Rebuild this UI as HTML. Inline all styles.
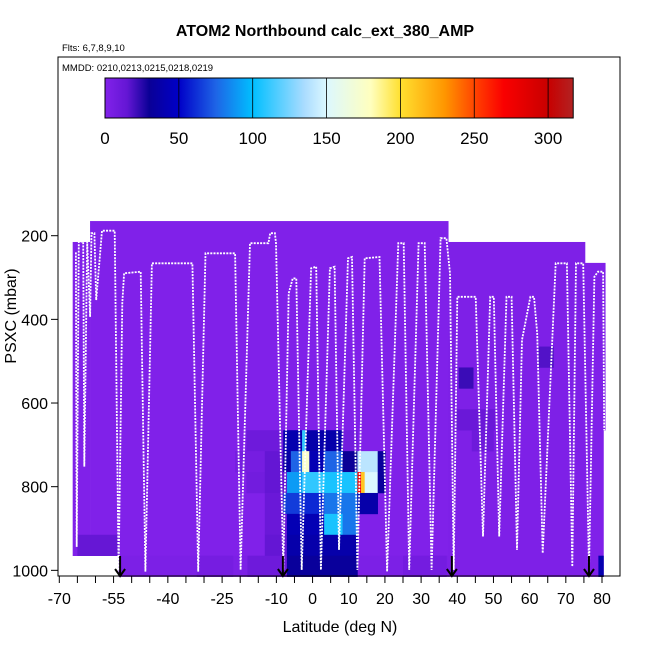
<!DOCTYPE html>
<html><head><meta charset="utf-8"><style>
html,body{margin:0;padding:0;background:#fff}
svg{display:block;font-family:"Liberation Sans",sans-serif}
</style></head><body>
<svg id="c" width="650" height="650" viewBox="0 0 650 650" xmlns="http://www.w3.org/2000/svg">
<text x="325" y="36" text-anchor="middle" font-size="16" font-weight="bold">ATOM2 Northbound calc_ext_380_AMP</text>
<text x="62" y="51" font-size="9.5">Flts: 6,7,8,9,10</text>
<text x="62" y="71" font-size="9.5">MMDD: 0210,0213,0215,0218,0219</text>
<text transform="translate(16,316) rotate(-90)" text-anchor="middle" font-size="16">PSXC (mbar)</text>
<text x="340" y="632" text-anchor="middle" font-size="16">Latitude (deg N)</text>
<g id="cells"></g>
<g id="track"></g>
<g id="arrows"></g>
<rect x="58" y="57" width="562" height="519" fill="none" stroke="#000" stroke-width="1"/>
<g id="axes"></g>
<g id="cbar"></g>
</svg>
<script>
// ---- data ----
const xTicks = [-70,-65,-60,-55,-50,-45,-40,-35,-30,-25,-20,-15,-10,-5,0,5,10,15,20,25,30,35,40,45,50,55,60,65,70,75,80];
const xLabels = [-70,-55,-40,-25,-10,0,10,20,30,40,50,60,70,80];
const yTicks = [200,400,600,800,1000];
const cbTicks = [0,50,100,150,200,250,300];
const arrowLats = [-53.2,-8.2,38.5,76.4];
// heatmap cells: lat0, lat1, p0, p1
const cellLat0 = [-61.5,-53.6,-66.3,37.5,75.3,75.3,
 -18.3,-8.1,-2.9,-1.9,8.3,
 -21.4,-13.2,-8.1,-6,-2.9,-0.9,3.2,8.3,12.4,18,
 -18.3,-13.2,-7.1,-2.9,2.7,12.4,13.4,14.4,18,
 -13.2,-8.1,-2.9,3.2,12.4,
 -13.2,-7.1,3.2,8.3,
 -13.2,-7.1,
 -18,-7.1,
 40.4,39.5,62.5,44,-65,79,-32,25];
const cellLat1 = [37.5,37.5,-61.5,75.3,80.9,80.4,
 -8.1,-2.9,-1.9,8.3,12.4,
 -13.2,-8.1,-6,-2.9,-0.9,3.2,8.3,12.4,18,20.1,
 -13.2,-7.1,-2.9,2.7,12.4,13.4,14.4,18,20.1,
 -8.1,-2.9,3.2,12.4,18,
 -7.1,3.2,8.3,12.4,
 -7.1,12.4,
 -7.1,12.4,
 44.4,50.3,66.6,50,-53.6,80.4,-22,37];
const cellP0 = [165,965,215,215,265,665,
 665,665,665,665,665,
 715,715,715,715,715,715,715,715,715,715,
 765,765,765,765,765,765,765,765,765,
 815,815,815,815,815,
 865,865,865,865,
 915,915,
 965,965,
 515,615,465,665,915,965,965,965];
const cellP1 = [965,1015,965,1015,665,1015,
 715,715,715,715,715,
 765,765,765,765,765,765,765,765,765,765,
 815,815,815,815,815,815,815,815,815,
 865,865,865,865,865,
 915,915,915,915,
 965,965,
 1015,1015,
 565,665,515,715,965,1015,1015,1015];
const cellVal = [1,3,1,2,1,1,
 10,40,110,38,8,
 6,15,36,75,175,42,75,30,140,32,
 8,15,90,110,105,275,210,150,32,
 12,65,60,80,38,
 12,42,105,80,
 15,38,
 10,32,
 22,12,18,10,14,40,6,7];
// flight track vertices
const trackLat = [-65.4,-65.2,-64.6,-63.4,-63.1,-62.3,-61.5,-61.1,-60.3,-59.8,-58.2,-54.7,-53.6,-52.6,-52.1,-47.5,-46.2,-44.4,-33.2,-31.6,-29.6,-21.4,-19.9,-17.3,-12.2,-11.7,-10.4,-10.1,-8.1,-6.6,-5.5,-4.5,-3,-0.4,1,2.3,4.8,6.1,7.3,9.8,10.9,12.4,14.4,18.5,20.6,23.7,25.2,26.7,29.3,31,32.9,35.4,37,38,39,40,45.1,47.1,49.1,50.1,51.6,53.6,55,56.5,57.9,60.2,61.2,62.1,63.6,67.2,70.3,71.8,72.8,74.8,76.4,77.9,78.9,80.3,80.6];
const trackP = [240,944,214,214,752,214,394,194,194,354,188,188,1000,361,290,286,1003,266,266,1003,242,242,999,218,218,194,194,218,999,338,302,302,999,278,274,999,278,274,951,254,251,999,254,251,1003,218,218,999,218,218,999,206,206,290,999,346,346,919,346,346,919,346,346,951,449,346,346,433,959,266,266,991,266,266,999,298,286,286,665];

// ---- scales ----
const X = lat => 59.3 + (lat + 70) * 3.618;
const Y = p => 235.7 + (p - 200) * 0.4183;
const CB = v => 105 + v * 1.477;
const NS = 'http://www.w3.org/2000/svg';
const stops = [[0,[130,34,234]],[15,[100,22,212]],[30,[10,0,150]],[50,[0,0,200]],[75,[30,100,230]],[100,[0,191,255]],[135,[170,220,255]],[150,[220,248,255]],[180,[255,255,190]],[200,[255,224,48]],[230,[255,150,0]],[255,[255,50,0]],[270,[250,0,0]],[300,[200,0,0]],[317,[178,34,34]]];
function col(v){
  for(let i=1;i<stops.length;i++){
    if(v<=stops[i][0]){const a=stops[i-1],b=stops[i],t=(v-a[0])/(b[0]-a[0]);
      return 'rgb('+a[1].map((c,k)=>Math.round(c+(b[1][k]-c)*t)).join(',')+')';}
  }
  return 'rgb(178,34,34)';
}
function mk(tag,attrs,parent){const e=document.createElementNS(NS,tag);for(const k in attrs)e.setAttribute(k,attrs[k]);parent.appendChild(e);return e;}

// heatmap
const cells=document.getElementById('cells');
for(let i=0;i<cellVal.length;i++){
  const r=mk('rect',{x:X(cellLat0[i]),y:Y(cellP0[i]),width:X(cellLat1[i])-X(cellLat0[i])+0.3,height:Y(cellP1[i])-Y(cellP0[i])+0.3,fill:col(cellVal[i])},cells);
  
  
}
// track
const tr=document.getElementById('track');
const pts=trackLat.map((l,i)=>X(l).toFixed(1)+','+Y(trackP[i]).toFixed(1)).join(' ');
const pl=mk('polyline',{points:pts,fill:'none',stroke:'#fff','stroke-width':1.8,'stroke-dasharray':'2 1.2'},tr);


// arrows
const ar=document.getElementById('arrows');
arrowLats.forEach(l=>{
  const g=mk('g',{},ar);
  
  
  const x=X(l);
  mk('line',{x1:x,y1:556,x2:x,y2:576,stroke:'#000','stroke-width':2},g);
  mk('polyline',{points:(x-5)+',569 '+x+',576 '+(x+5)+',569',fill:'none',stroke:'#000','stroke-width':2},g);
});
// axes
const ax=document.getElementById('axes');
xTicks.forEach(t=>{
  const l=mk('line',{x1:X(t),y1:576,x2:X(t),y2:583,stroke:'#000'},ax);
  
  
});
xLabels.forEach(t=>{
  const e=mk('text',{x:X(t),y:604,'text-anchor':'middle','font-size':16},ax);e.textContent=t;
  
  
});
yTicks.forEach(t=>{
  const l=mk('line',{x1:51,y1:Y(t),x2:58,y2:Y(t),stroke:'#000'},ax);
  
  
  const e=mk('text',{x:48,y:Y(t)+6,'text-anchor':'end','font-size':16},ax);e.textContent=t;
  
  
});
// colorbar
const cb=document.getElementById('cbar');
const defs=mk('defs',{},cb);
const gr=mk('linearGradient',{id:'cg',x1:0,x2:1,y1:0,y2:0},defs);
stops.forEach(s=>mk('stop',{offset:(s[0]/317),'stop-color':col(s[0])},gr));
const bar=mk('rect',{x:CB(0),y:78,width:CB(317)-CB(0),height:40,fill:'url(#cg)',stroke:'#000'},cb);


cbTicks.forEach(t=>{
  if(t>0){const l=mk('line',{x1:CB(t),y1:78,x2:CB(t),y2:118,stroke:'#000','stroke-width':0.8},cb);
    
    }
  const e=mk('text',{x:CB(t),y:144,'text-anchor':'middle','font-size':17},cb);e.textContent=t;
  
  
});
</script>
</body></html>
